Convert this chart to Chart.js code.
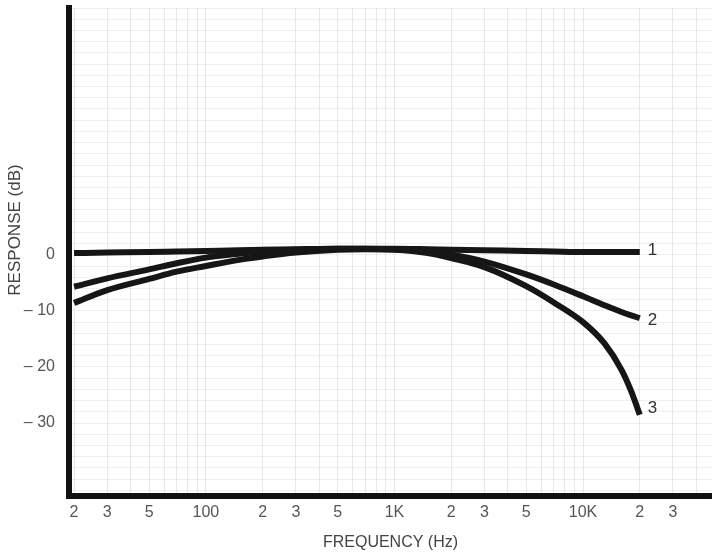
<!DOCTYPE html>
<html><head><meta charset="utf-8">
<script src="https://cdn.jsdelivr.net/npm/chart.js@4.4.1/dist/chart.umd.min.js"></script>
<style>html,body{margin:0;padding:0;background:#fff}canvas{display:block}</style>
</head><body>
<canvas id="c" width="712" height="552"></canvas>
<script>
// ---- data ----
const freqHz = [20,30,50,70,100,150,200,300,500,700,1000,1500,2000,3000,5000,7000,10000,13000,16000,18000,20000];
const curve1 = [0.3,0.4,0.5,0.6,0.7,0.8,0.9,1.0,1.1,1.1,1.1,1.0,0.9,0.8,0.7,0.6,0.5,0.5,0.5,0.5,0.5];
const curve2 = [-5.7,-4.2,-2.6,-1.5,-0.5,0.2,0.6,0.9,1.1,1.1,1.0,0.6,0.0,-1.2,-3.5,-5.3,-7.4,-9.0,-10.2,-10.8,-11.3];
const curve3 = [-8.6,-6.3,-4.3,-3.0,-2.0,-0.9,-0.3,0.4,0.9,1.0,0.9,0.3,-0.6,-2.2,-5.6,-8.5,-12.0,-15.8,-20.5,-24.3,-28.5];
const curveNames = ['1','2','3'];

const xTickValues = [20,30,50,100,200,300,500,1000,2000,3000,5000,10000,20000,30000];
const xTickLabels = ['2','3','5','100','2','3','5','1K','2','3','5','10K','2','3'];
const xGridHz = [20,30,40,50,60,70,80,90,100,200,300,400,500,600,700,800,900,1000,2000,3000,4000,5000,6000,7000,8000,9000,10000,20000,30000,40000];
const yTickValues = [0,-10,-20,-30];
const yTickLabels = ['0','\u2013 10','\u2013 20','\u2013 30'];
const xTitle = 'FREQUENCY (Hz)';
const yTitle = 'RESPONSE (dB)';

const FONT = '"Liberation Sans", Arial, Helvetica, sans-serif';
const toPts = arr => arr.map((v, i) => ({x: freqHz[i], y: v}));

const yGrid = [];
for (let v = -42; v <= 44; v += 2) yGrid.push(v);

const labelPlugin = {
  id: 'extras',
  afterDraw(chart) {
    const ctx = chart.ctx;
    ctx.save();
    ctx.translate(15, 230);
    ctx.rotate(-Math.PI / 2);
    ctx.font = '17px ' + FONT;
    ctx.fillStyle = '#444';
    ctx.textAlign = 'center';
    ctx.textBaseline = 'middle';
    ctx.fillText(yTitle, 0, 0);
    ctx.restore();
    ctx.save();
    ctx.font = '17px ' + FONT;
    ctx.fillStyle = '#333';
    ctx.textAlign = 'left';
    ctx.textBaseline = 'middle';
    chart.data.datasets.forEach((ds, i) => {
      const pts = chart.getDatasetMeta(i).data;
      const p = pts[pts.length - 1];
      const dy = i === 2 ? -6 : (i === 1 ? 2 : -2);
      ctx.fillText(curveNames[i], p.x + 8, p.y + dy);
    });
    ctx.restore();
  }
};

const lineStyle = {borderColor: '#161616', borderWidth: 6, pointRadius: 0, fill: false, cubicInterpolationMode: 'monotone', borderCapStyle: 'butt'};

new Chart(document.getElementById('c'), {
  type: 'line',
  data: {
    datasets: [
      Object.assign({label: curveNames[0], data: toPts(curve1)}, lineStyle),
      Object.assign({label: curveNames[1], data: toPts(curve2)}, lineStyle),
      Object.assign({label: curveNames[2], data: toPts(curve3)}, lineStyle)
    ]
  },
  options: {
    responsive: false,
    animation: false,
    layout: {padding: {top: 8, right: 0, left: 0, bottom: 0}},
    plugins: {legend: {display: false}, tooltip: {enabled: false}},
    scales: {
      x: {
        type: 'logarithmic',
        min: 18.8,
        max: 48300,
        afterBuildTicks: s => { s.ticks = xGridHz.map(v => ({value: v})); },
        afterFit: s => { s.height = 56; s.paddingLeft = 0; s.paddingRight = 0; },
        ticks: {
          autoSkip: false, maxRotation: 0, padding: 7,
          color: '#555', font: {family: FONT, size: 16},
          callback: v => { const i = xTickValues.indexOf(v); return i >= 0 ? xTickLabels[i] : ''; }
        },
        grid: {color: 'rgba(0,0,0,0.09)', lineWidth: 1, drawTicks: false},
        border: {display: true, color: '#111', width: 6},
        title: {display: true, text: xTitle, color: '#444', font: {family: FONT, size: 16}, padding: {top: 0, bottom: 0}}
      },
      y: {
        type: 'linear',
        min: -43,
        max: 44,
        afterBuildTicks: s => { s.ticks = yGrid.map(v => ({value: v})); },
        afterFit: s => { s.width = 69; s.paddingTop = 0; s.paddingBottom = 0; },
        ticks: {
          autoSkip: false, padding: 14,
          color: '#555', font: {family: FONT, size: 16},
          callback: v => { const i = yTickValues.indexOf(v); return i >= 0 ? yTickLabels[i] : ''; }
        },
        grid: {color: 'rgba(0,0,0,0.06)', lineWidth: 1, drawTicks: false},
        border: {display: true, color: '#111', width: 6}
      }
    }
  },
  plugins: [labelPlugin]
});
</script>
</body></html>
